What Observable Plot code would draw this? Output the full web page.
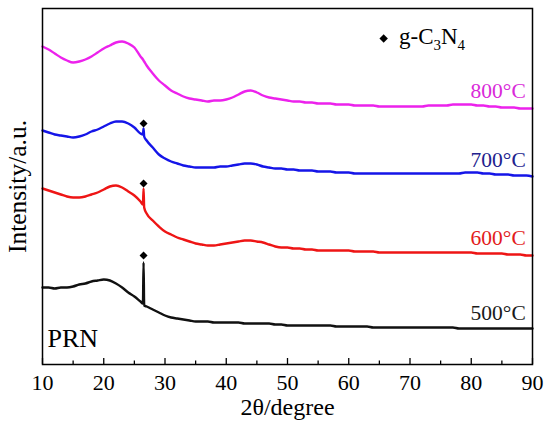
<!DOCTYPE html>
<html><head><meta charset="utf-8">
<script src="https://cdn.jsdelivr.net/npm/d3@7"></script>
<script src="https://cdn.jsdelivr.net/npm/@observablehq/plot@0.6"></script>
<style>body{margin:0;background:#fff}</style>
</head><body><div id="chart"></div>
<script>
// 2θ sampling (degree)
const twoTheta = [10,11,12,13,14,15,16,17,18,19,20,21,22,23,24,25,26,26.4,26.5,26.6,
  27,28,29,30,31,32,33,34,35,36,37,38,39,40,41,42,43,44,45,46,47,48,49,50,51,52,53,54,55,56,57,58,59,60,
  61,62,63,64,65,66,67,68,69,70,71,72,73,74,75,76,77,78,79,80,81,82,83,84,85,86,87,88,89,90];

// Intensities (a.u., offset as in the figure)
const i800 = [318,315,311,307,304,302,303,305,308,312,316,319,322,323,321,317,308,305,304,303,
  299,291,284,279,274,271,268,266,265,264,263,264,264,265,267,270,273,274,272,269,267,266,265,264,263,263,262,262,261,261,261,260,260,260,
  259,259,259,259,258,258,258,258,258,258,258,258,259,259,259,259,260,260,260,260,259,259,258,258,257,257,257,256,256,256];
const i700 = [234,232,230,229,228,227,228,230,233,235,238,241,243,243,241,237,231,230,236,228,
  224,217,210,206,203,201,199,198,197,197,197,197,198,198,199,200,201,201,200,198,197,196,196,195,195,194,194,194,193,193,193,192,192,192,
  191,191,191,191,191,191,191,191,191,191,191,191,191,191,191,191,191,191,192,192,192,191,191,190,190,190,189,189,189,188];
const i600 = [176,174,172,170,168,167,167,168,170,172,175,178,179,177,173,169,163,160,176,157,
  151,144,138,133,130,127,125,123,121,120,119,119,120,121,122,123,124,124,123,122,120,118,117,117,116,116,115,115,114,114,114,114,114,114,
  113,113,113,113,112,112,112,112,112,112,112,112,112,112,112,112,112,112,112,112,111,111,111,111,111,110,110,110,109,109];
const i500 = [77,77,76,77,77,78,80,81,83,84,85,84,81,77,72,68,63,61,102,59,
  58,55,52,49,47,46,45,44,43,43,43,42,42,42,42,42,41,41,41,41,41,40,40,39,39,39,39,39,39,39,39,38,38,38,
  38,38,38,37,37,37,37,37,37,37,37,37,37,37,37,37,37,36,36,36,36,36,36,36,36,36,36,36,36,36];

const seriesNames = ["500°C","600°C","700°C","800°C"];
const seriesValues = [i500, i600, i700, i800];
const seriesColors = ["#111111","#ee1515","#1515e8","#ec22ec"];
const labelColors  = ["#1a1a1a","#e31c1c","#22228e","#d92ad9"];
const labelLevels  = [51, 126, 204, 273];

// g-C3N4 reflection markers
const markerTheta = [26.5, 26.5, 26.5];
const markerLevel = [109, 181, 241];

const majorTicks = [10,20,30,40,50,60,70,80,90];
const minorTicks = [15,25,35,45,55,65,75,85];

const font = '"Liberation Serif", "Times New Roman", serif';

const marks = [];
seriesNames.forEach((name, k) => {
  const rows = twoTheta.map((t, j) => ({t, v: seriesValues[k][j]}));
  marks.push(Plot.line(rows, {x: "t", y: "v", stroke: seriesColors[k], strokeWidth: 2.4, curve: "monotone-x"}));
});
marks.push(Plot.ruleX(majorTicks, {y1: 0, y2: 6, stroke: "#000", strokeWidth: 1.3}));
marks.push(Plot.ruleX(minorTicks, {y1: 0, y2: 3.5, stroke: "#000", strokeWidth: 1.3}));
marks.push(Plot.frame({stroke: "#000", strokeWidth: 1.5}));
marks.push(Plot.dot(markerTheta.map((t, i) => ({t, v: markerLevel[i]})),
  {x: "t", y: "v", symbol: "diamond2", r: 3.6, fill: "#000", stroke: "none"}));
seriesNames.forEach((name, k) => {
  marks.push(Plot.text([{t: 88.9, v: labelLevels[k], s: name}],
    {x: "t", y: "v", text: "s", fill: labelColors[k], textAnchor: "end", fontSize: 21.5}));
});
// legend
marks.push(Plot.dot([{t: 65.7, v: 326}], {x: "t", y: "v", symbol: "diamond2", r: 3.8, fill: "#000", stroke: "none"}));
marks.push(Plot.text([{t: 68.2, v: 328, s: "g-C3N4"}], {x: "t", y: "v", text: "s", textAnchor: "start", fontSize: 23, fill: "#000"}));
marks.push(Plot.text(["PRN"], {frameAnchor: "bottom-left", dx: 5, dy: -18, textAnchor: "start", fontSize: 26, fill: "#000"}));
marks.push(Plot.text(["Intensity/a.u."], {frameAnchor: "left", dx: -25, rotate: -90, textAnchor: "middle", fontSize: 25.5, fill: "#000"}));
marks.push(Plot.text(["2θ/degree"], {frameAnchor: "bottom", dy: 50, textAnchor: "middle", fontSize: 24, fill: "#000"}));

const plot = Plot.plot({
  width: 550, height: 429,
  marginLeft: 42, marginRight: 18, marginTop: 8, marginBottom: 65,
  style: {fontFamily: font, fontSize: "22px", background: "#fff", color: "#000"},
  x: {domain: [10, 90], ticks: majorTicks, tickSize: 0, tickPadding: 10, label: null, tickFormat: d => String(d)},
  y: {domain: [0, 356], axis: null},
  marks
});

d3.select(plot).selectAll("text").filter(function() { return this.textContent === "g-C3N4"; })
  .each(function() {
    const t = d3.select(this);
    t.text(null);
    t.append("tspan").text("g-C");
    t.append("tspan").attr("dy", 6).attr("font-size", 15).text("3");
    t.append("tspan").attr("dy", -6).text("N");
    t.append("tspan").attr("dy", 6).attr("font-size", 15).text("4");
  });

document.getElementById("chart").appendChild(plot);
</script>
</body></html>
